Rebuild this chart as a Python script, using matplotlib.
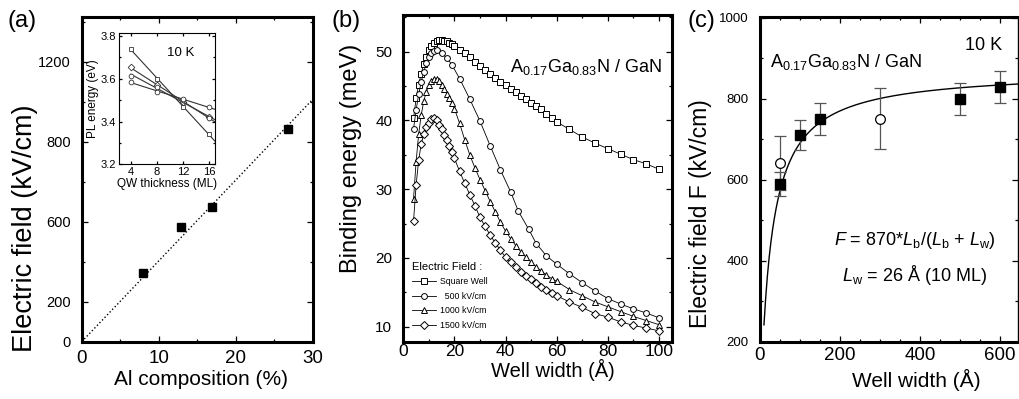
import numpy as np
import matplotlib
matplotlib.use('Agg')
import matplotlib.pyplot as plt
from matplotlib.ticker import MultipleLocator, FixedLocator, FixedFormatter

plt.rcParams['font.family'] = ['Liberation Sans', 'DejaVu Sans']
plt.rcParams['mathtext.fontset'] = 'custom'
plt.rcParams['mathtext.rm'] = 'Liberation Sans'
plt.rcParams['mathtext.it'] = 'Liberation Sans:italic'

# ---- (a) electric field vs Al composition (y in the axis' linear units)
al_comp = [8.0, 12.9, 16.9, 26.8]
field_a = [342, 575, 675, 1063]
guide_x = [0, 30]
guide_y = [0, 1212]
ytick_pos_a = [0, 200, 600, 1000, 1400]
ytick_lab_a = ['0', '200', '600', '800', '1200']

# inset: PL energy vs QW thickness
qw_ml = [4, 8, 12, 16]
pl_1 = [3.74, 3.60, 3.47, 3.34]
pl_2 = [3.655, 3.57, 3.49, 3.42]
pl_3 = [3.615, 3.56, 3.50, 3.415]
pl_4 = [3.585, 3.54, 3.505, 3.467]

# ---- (b) binding energy vs well width
sq_x = list(range(4, 21)) + list(range(22, 61, 2)) + list(range(65, 101, 5))
sq_y = [40.3, 43.2, 45.2, 46.8, 48.2, 49.3, 50.2, 50.9, 51.3, 51.6, 51.7, 51.7, 51.6, 51.5, 51.3, 51.1, 50.9,
        50.3, 49.8, 49.2, 48.5, 47.9, 47.3, 46.7, 46.2, 45.6, 45.1, 44.6, 44.1, 43.6, 43.1, 42.6, 42.1, 41.6, 41.0, 40.4, 39.8,
        38.7, 37.6, 36.7, 35.9, 35.1, 34.3, 33.7, 32.9]
c500_x = [4, 5, 6, 7, 8, 9, 10, 11, 12, 13, 15, 17, 19, 22, 26, 30, 34, 38, 42, 45, 49, 52, 56, 60,
          65, 70, 75, 80, 85, 90, 95, 100]
c500_y = [38.8, 41.5, 43.8, 45.6, 47.1, 48.3, 49.2, 49.8, 50.1, 50.2, 49.8, 49.1, 48.1, 46.1, 43.1, 39.9,
          36.3, 32.8, 29.6, 26.8, 24.2, 22.1, 20.3, 19.1, 17.7, 16.4, 15.2, 14.1, 13.3, 12.6, 12.0, 11.3]
c1000_x = sq_x
c1000_y = [28.6, 34.0, 38.0, 40.8, 42.8, 44.2, 45.2, 45.8, 46.1, 46.0, 45.7, 45.2, 44.6, 43.9, 43.2, 42.5, 41.7,
           39.6, 37.2, 35.0, 33.1, 31.4, 29.8, 28.2, 26.7, 25.2, 23.9, 22.8, 21.8, 20.9, 20.1, 19.4, 18.7, 18.1, 17.5, 17.0, 16.6,
           15.4, 14.5, 13.6, 12.9, 12.2, 11.5, 10.9, 10.3]
c1500_x = sq_x
c1500_y = [25.4, 30.6, 34.2, 36.6, 38.0, 39.0, 39.7, 40.2, 40.4, 40.0, 39.4, 38.7, 37.9, 37.1, 36.3, 35.4, 34.5,
           32.6, 30.9, 29.2, 27.6, 25.9, 24.6, 23.3, 22.2, 21.1, 20.1, 19.4, 18.7, 18.0, 17.4, 16.9, 16.3, 15.8, 15.3, 14.9, 14.5,
           13.6, 12.8, 11.9, 11.4, 10.7, 10.2, 9.8, 9.4]

# ---- (c) field vs well width
filled_x = [50, 100, 150, 500, 600]
filled_y = [590, 711, 750, 800, 829]
filled_err = [30, 37, 40, 40, 40]
open_x = [50, 300]
open_y = [641, 751]
open_err = [66, 76]
fit_F0 = 870   # kV/cm
fit_Lw = 26    # Angstrom

fig = plt.figure(figsize=(10.19, 3.99), dpi=100)


def style_axes(ax, lw=2.0):
    for s in ax.spines.values():
        s.set_linewidth(lw)
    ax.tick_params(which='both', direction='in', top=True, right=True, width=0.9)
    ax.tick_params(which='major', length=4)
    ax.tick_params(which='minor', length=2.5)


# ================= (a)
axa = fig.add_axes([0.0802, 0.1436, 0.2267, 0.8145])
axa.plot(guide_x, guide_y, ':', color='k', lw=1.0)
axa.plot(al_comp, field_a, 's', color='k', ms=6)
axa.set_xlim(0, 30)
axa.set_ylim(0, 1625)
axa.xaxis.set_major_locator(MultipleLocator(10))
axa.xaxis.set_minor_locator(MultipleLocator(5))
axa.yaxis.set_major_locator(FixedLocator(ytick_pos_a))
axa.yaxis.set_major_formatter(FixedFormatter(ytick_lab_a))
axa.yaxis.set_minor_locator(MultipleLocator(200))
style_axes(axa, 2.2)
axa.tick_params(axis='x', labelsize=13.5, pad=6)
axa.tick_params(axis='y', labelsize=10.5, pad=8)
axa.set_xlabel('Al composition (%)', fontsize=15, va='center')
axa.xaxis.set_label_coords(0.515, -0.117)
axa.set_ylabel('Electric field (kV/cm)', fontsize=19.5, va='center', rotation_mode='anchor')
axa.yaxis.set_label_coords(-0.245, 0.35)

# inset
axi = fig.add_axes([0.1168, 0.5882, 0.0942, 0.3283])
xs = np.array([4, 16.9])
for vals, mk in [(pl_1, 's'), (pl_2, 'D'), (pl_3, 'o'), (pl_4, 'o')]:
    k, b = np.polyfit(qw_ml, vals, 1)
    axi.plot(xs, k * xs + b, '-', color='#333333', lw=0.8)
    axi.plot(qw_ml, vals, mk, mfc='white', mec='#333333', ms=3.4, mew=0.6)
axi.set_xlim(2.2, 16.9)
axi.set_ylim(3.2, 3.813)
axi.xaxis.set_major_locator(MultipleLocator(4))
axi.yaxis.set_major_locator(MultipleLocator(0.2))
axi.yaxis.set_minor_locator(MultipleLocator(0.1))
axi.yaxis.set_major_formatter(plt.FuncFormatter(lambda v, p: f'{v:.1f}'))
style_axes(axi, 0.8)
axi.tick_params(which='major', length=2.5)
axi.tick_params(which='minor', length=1.5)
axi.tick_params(labelsize=8, pad=2)
axi.set_xlabel('QW thickness (ML)', fontsize=8.5, labelpad=1)
axi.set_ylabel('PL energy (eV)', fontsize=8.5, labelpad=1)
axi.text(0.645, 0.852, '10 K', transform=axi.transAxes, fontsize=9.5, ha='center', va='center')

# ================= (b)
axb = fig.add_axes([0.3958, 0.1436, 0.2634, 0.8188])
mk_kw = dict(mfc='white', mec='k', ms=4.2, mew=0.7, lw=0.6, color='k')
axb.plot(sq_x, sq_y, '-s', label='Square Well', **mk_kw)
axb.plot(c500_x, c500_y, '-o', label='  500 kV/cm', **mk_kw)
axb.plot(c1000_x, c1000_y, '-^', label='1000 kV/cm', **mk_kw)
axb.plot(c1500_x, c1500_y, '-D', label='1500 kV/cm', **dict(mk_kw, ms=3.7))
axb.set_xlim(0, 105)
axb.set_ylim(7.82, 55.34)
axb.xaxis.set_major_locator(MultipleLocator(20))
axb.xaxis.set_minor_locator(MultipleLocator(10))
axb.yaxis.set_major_locator(MultipleLocator(10))
axb.yaxis.set_minor_locator(MultipleLocator(5))
style_axes(axb, 2.2)
axb.tick_params(axis='x', labelsize=12.5, pad=2)
axb.tick_params(axis='y', labelsize=11, pad=8)
axb.set_xlabel('Well width (Å)', fontsize=14.5, va='center')
axb.xaxis.set_label_coords(0.559, -0.088)
axb.set_ylabel('Binding energy (meV)', fontsize=17, va='center', rotation_mode='anchor')
axb.yaxis.set_label_coords(-0.196, 0.562)
axb.text(0.963, 0.841, r'A$_{0.17}$Ga$_{0.83}$N / GaN', transform=axb.transAxes,
         fontsize=13, ha='right', va='center')
leg = axb.legend(loc='lower left', bbox_to_anchor=(0.0, 0.01), frameon=False, fontsize=6.3,
                 title='Electric Field :', title_fontsize=8, alignment='left',
                 handlelength=2.7, handletextpad=0.5, labelspacing=0.62, borderpad=0.5)

# ================= (c)
axc = fig.add_axes([0.7458, 0.1436, 0.2532, 0.8130])
lb = np.linspace(10, 650, 300)
axc.plot(lb, fit_F0 * lb / (lb + fit_Lw), '-', color='k', lw=1.0)
axc.errorbar(open_x, open_y, yerr=open_err, fmt='o', mfc='white', mec='k', ms=7, mew=0.9,
             ecolor='#555555', elinewidth=0.9, capsize=4.5, capthick=0.9)
axc.errorbar(filled_x, filled_y, yerr=filled_err, fmt='s', color='k', ms=7,
             ecolor='#555555', elinewidth=0.9, capsize=4.5, capthick=0.9)
axc.set_xlim(0, 645)
axc.set_ylim(200, 1001)
axc.xaxis.set_major_locator(MultipleLocator(200))
axc.xaxis.set_minor_locator(MultipleLocator(50))
axc.yaxis.set_major_locator(MultipleLocator(200))
axc.yaxis.set_minor_locator(MultipleLocator(100))
style_axes(axc, 2.2)
axc.spines['right'].set_linewidth(1.0)
axc.tick_params(axis='x', labelsize=13.5, pad=4)
axc.tick_params(axis='y', labelsize=9.5, pad=8)
axc.set_xlabel('Well width (Å)', fontsize=15, va='center')
axc.xaxis.set_label_coords(0.607, -0.118)
axc.set_ylabel('Electric field F (kV/cm)', fontsize=16.5, va='center', rotation_mode='anchor')
axc.yaxis.set_label_coords(-0.229, 0.394)
axc.text(0.039, 0.862, r'A$_{0.17}$Ga$_{0.83}$N / GaN', transform=axc.transAxes,
         fontsize=13, ha='left', va='center')
axc.text(0.938, 0.914, '10 K', transform=axc.transAxes, fontsize=13, ha='right', va='center')
axc.text(0.599, 0.313, r'$F$ = 870*$L_\mathrm{b}$/($L_\mathrm{b}$ + $L_\mathrm{w}$)',
         transform=axc.transAxes, fontsize=13, ha='center', va='center')
axc.text(0.599, 0.205, r'$L_\mathrm{w}$ = 26 Å (10 ML)', transform=axc.transAxes,
         fontsize=13, ha='center', va='center')

# panel letters
fig.text(0.0216, 0.947, '(a)', fontsize=17, ha='center', va='center')
fig.text(0.3395, 0.947, '(b)', fontsize=17, ha='center', va='center')
fig.text(0.688, 0.947, '(c)', fontsize=17, ha='center', va='center')

fig.savefig('out.png', dpi=100)
